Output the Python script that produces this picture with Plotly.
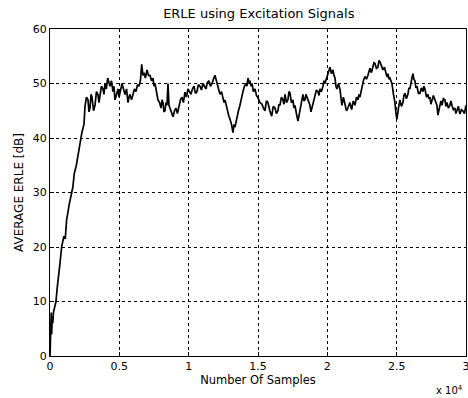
import plotly.graph_objects as go

samples = [
    0, 30, 60, 90, 120, 160, 200, 250, 300, 430,
    520, 600, 720, 840, 1000, 1100, 1200, 1400, 1560, 1650,
    1750, 1900, 2100, 2210, 2300, 2450, 2524,
    2630, 2740, 2810, 2884, 2960, 3028, 3140, 3245, 3350, 3461,
    3530, 3605, 3710, 3821, 3890, 3966, 4060, 4160, 4240, 4326,
    4430, 4542, 4610, 4687, 4800, 4903, 4980, 5047, 5120, 5191,
    5300, 5408, 5520, 5624, 5700, 5768, 5880, 5984, 6090, 6201,
    6310, 6417, 6520, 6612, 6700, 6777, 6880, 6994, 7100, 7210,
    7320, 7426, 7500, 7571, 7680, 7787, 7900, 8003, 8080, 8147,
    8220, 8292, 8360, 8436, 8508, 8580, 8652, 8760, 8868, 8980,
    9085, 9190, 9301, 9410, 9517, 9620, 9734, 9840, 9950, 10060,
    10166, 10270, 10382, 10490, 10599, 10700, 10815, 10920, 11031, 11140,
    11248, 11350, 11464, 11570, 11680, 11790, 11897, 12000, 12113, 12190,
    12257, 12370, 12473, 12550, 12618, 12720, 12834, 12900, 12978, 13090,
    13194, 13270, 13339, 13410, 13483, 13590, 13699, 13800, 13915, 14020,
    14132, 14200, 14276, 14350, 14420, 14490, 14564, 14670, 14781, 14890,
    14997, 15140, 15285, 15390, 15502, 15610, 15718, 15850, 15985, 16100,
    16223, 16330, 16439, 16510, 16583, 16690, 16799, 16870, 16944, 17050,
    17160, 17230, 17304, 17410, 17520, 17590, 17665, 17770, 17881, 17950,
    18025, 18130, 18241, 18310, 18386, 18460, 18530, 18640, 18746, 18820,
    18890, 19000, 19107, 19210, 19323, 19400, 19467, 19570, 19683, 19760,
    19828, 19940, 20044, 20120, 20188, 20300, 20404, 20480, 20549, 20620,
    20693, 20800, 20909, 20980, 21053, 21160, 21270, 21380, 21486, 21620,
    21753, 21870, 21991, 22100, 22207, 22280, 22351, 22420, 22495, 22600,
    22712, 22820, 22928, 23000, 23072, 23180, 23288, 23360, 23433, 23540,
    23649, 23720, 23793, 23900, 24009, 24120, 24226, 24300, 24370, 24440,
    24514, 24590, 24658, 24770, 24875, 24950, 25019, 25130, 25235, 25340,
    25451, 25520, 25596, 25700, 25812, 25880, 25956, 26060, 26172, 26240,
    26317, 26390, 26461, 26570, 26677, 26780, 26893, 26960, 27038, 27150,
    27254, 27330, 27398, 27470, 27542, 27650, 27759, 27830, 27903, 27975,
    28050, 28119, 28190, 28263, 28370, 28480, 28550, 28624, 28730, 28840,
    28910, 28984, 29090, 29201, 29270, 29345, 29450, 29561, 29670, 29777,
    29890, 29994,
]

erle_db = [
    0, 6, 2, 8, 4, 7, 6, 8, 8.5, 10,
    12.5, 14, 17, 20, 22, 21.5, 25, 28, 30, 31,
    33.5, 35, 38, 40, 41, 42.5, 45.8,
    47.5, 47, 44.8, 45.5, 48, 47.5, 45, 46, 48.5, 48,
    46.5, 47.5, 49.5, 49, 48, 50, 49, 51, 50, 49.5,
    50.5, 48.5, 49.5, 47, 48, 49, 47.5, 48.5, 49.5, 50,
    49, 48, 49, 46.5, 47.5, 48, 47, 48, 49, 48.5,
    49.8, 49.5, 50.5, 53.5, 51.5, 52, 51, 52.5, 51.5, 51.5,
    50.5, 51, 49.5, 50, 48.5, 47, 46.5, 45.5, 47, 46.5,
    44.8, 45, 46.5, 46, 50, 46, 45.5, 44.5, 43.9, 45,
    45.5, 44.5, 46, 47, 47.5, 46.5, 48.4, 47.5, 49, 48.5,
    48, 49, 49.5, 48.2, 48.5, 49.8, 49.5, 48.8, 50, 49.5,
    49, 50.2, 50.5, 49.5, 50, 50.8, 51.5, 50.5, 49.5, 48.8,
    48, 48.5, 47.5, 46.5, 47, 45.8, 45, 44, 43.5, 42.5,
    41, 42.5, 42, 43, 43.5, 45, 46, 47.5, 48.5, 49.5,
    50, 49.5, 51, 50.2, 50.5, 49.5, 50, 48.5, 49, 47.8,
    47.4, 46.5, 46.2, 45.5, 45, 46.8, 46.5, 45, 44, 45.8,
    45.5, 44.5, 45, 46.2, 46, 47.5, 47, 46.2, 48, 46.5,
    47, 48.5, 48.3, 46.5, 47, 45.5, 46, 44.5, 43.1, 44,
    45, 46.5, 48, 46.8, 47, 48, 47.5, 46.5, 46, 44.8,
    45.5, 46.8, 47.5, 48.8, 48.5, 47.8, 49, 48.5, 49.5, 50.5,
    50, 51, 51.5, 52.5, 53, 51.8, 52.5, 51.5, 51, 49.5,
    49, 50, 49, 47.5, 46, 47.5, 46.5, 45, 45.5, 46.5,
    45.2, 46.8, 46, 47.5, 47, 48, 47.5, 48.5, 49, 50.5,
    51.3, 50.8, 51.5, 52.5, 52.8, 52, 53, 53.8, 53.7, 52.8,
    53, 54.2, 54, 53.2, 52.5, 53, 52, 51.2, 51.8, 50.8,
    51, 50.5, 50, 48, 46.5, 44.5, 43.4, 45.5, 47, 45.8,
    46.5, 47.8, 48.2, 47.2, 48, 49.2, 49, 50.5, 51.8, 50.8,
    50.5, 49.2, 49.5, 48.2, 48.2, 49.2, 48.5, 49.5, 49, 47.5,
    48, 47.2, 47.5, 46.2, 46.9, 47.8, 47, 46.5, 46, 44.2,
    45, 45.5, 46.8, 46, 47.2, 47, 45.8, 46.5, 45.5, 46,
    46.8, 46, 45.2, 45.5, 44.5, 45, 45.8, 44.4, 45.2, 45,
    44.5, 46,
]

x_tick_vals = [0, 5000, 10000, 15000, 20000, 25000, 30000]
x_tick_text = ["0", "0.5", "1", "1.5", "2", "2.5", "3"]
y_tick_vals = [0, 10, 20, 30, 40, 50, 60]

assert len(samples) == len(erle_db)

FONT = "DejaVu Sans, Arial, sans-serif"

fig = go.Figure()
fig.add_trace(go.Scatter(
    x=samples, y=erle_db, mode="lines",
    line=dict(color="black", width=1.7),
    showlegend=False,
))

axis_common = dict(
    showline=True, linecolor="black", linewidth=1, mirror=True,
    showgrid=True, gridcolor="black", gridwidth=1, griddash="dot",
    ticks="inside", ticklen=4, tickcolor="black",
    zeroline=False, ticklabeloverflow="allow", automargin=False,
    tickfont=dict(family=FONT, size=11, color="black"),
)

fig.update_xaxes(
    range=[0, 30000], tickvals=x_tick_vals, ticktext=x_tick_text,
    title=dict(text="Number Of Samples", font=dict(family=FONT, size=11.5, color="black"), standoff=2),
    **axis_common,
)
fig.update_yaxes(
    range=[0, 60], tickvals=y_tick_vals,
    title=dict(text="AVERAGE ERLE [dB]", font=dict(family=FONT, size=12, color="black"), standoff=6),
    **axis_common,
)

fig.update_layout(
    width=468, height=398,
    margin=dict(l=50, r=2, t=29, b=42, autoexpand=False),
    paper_bgcolor="white", plot_bgcolor="white",
    title=dict(text="ERLE using Excitation Signals", x=0.553, xanchor="center",
               y=0.965, yanchor="middle", yref="container",
               font=dict(family=FONT, size=13, color="black")),
    font=dict(family=FONT, size=11, color="black"),
    annotations=[dict(
        text="x 10<sup>4</sup>", xref="paper", yref="paper",
        x=0.998, y=-0.103, xanchor="right", yanchor="middle", showarrow=False,
        font=dict(family=FONT, size=10, color="black"),
    )],
)

fig.write_html("out.html")
